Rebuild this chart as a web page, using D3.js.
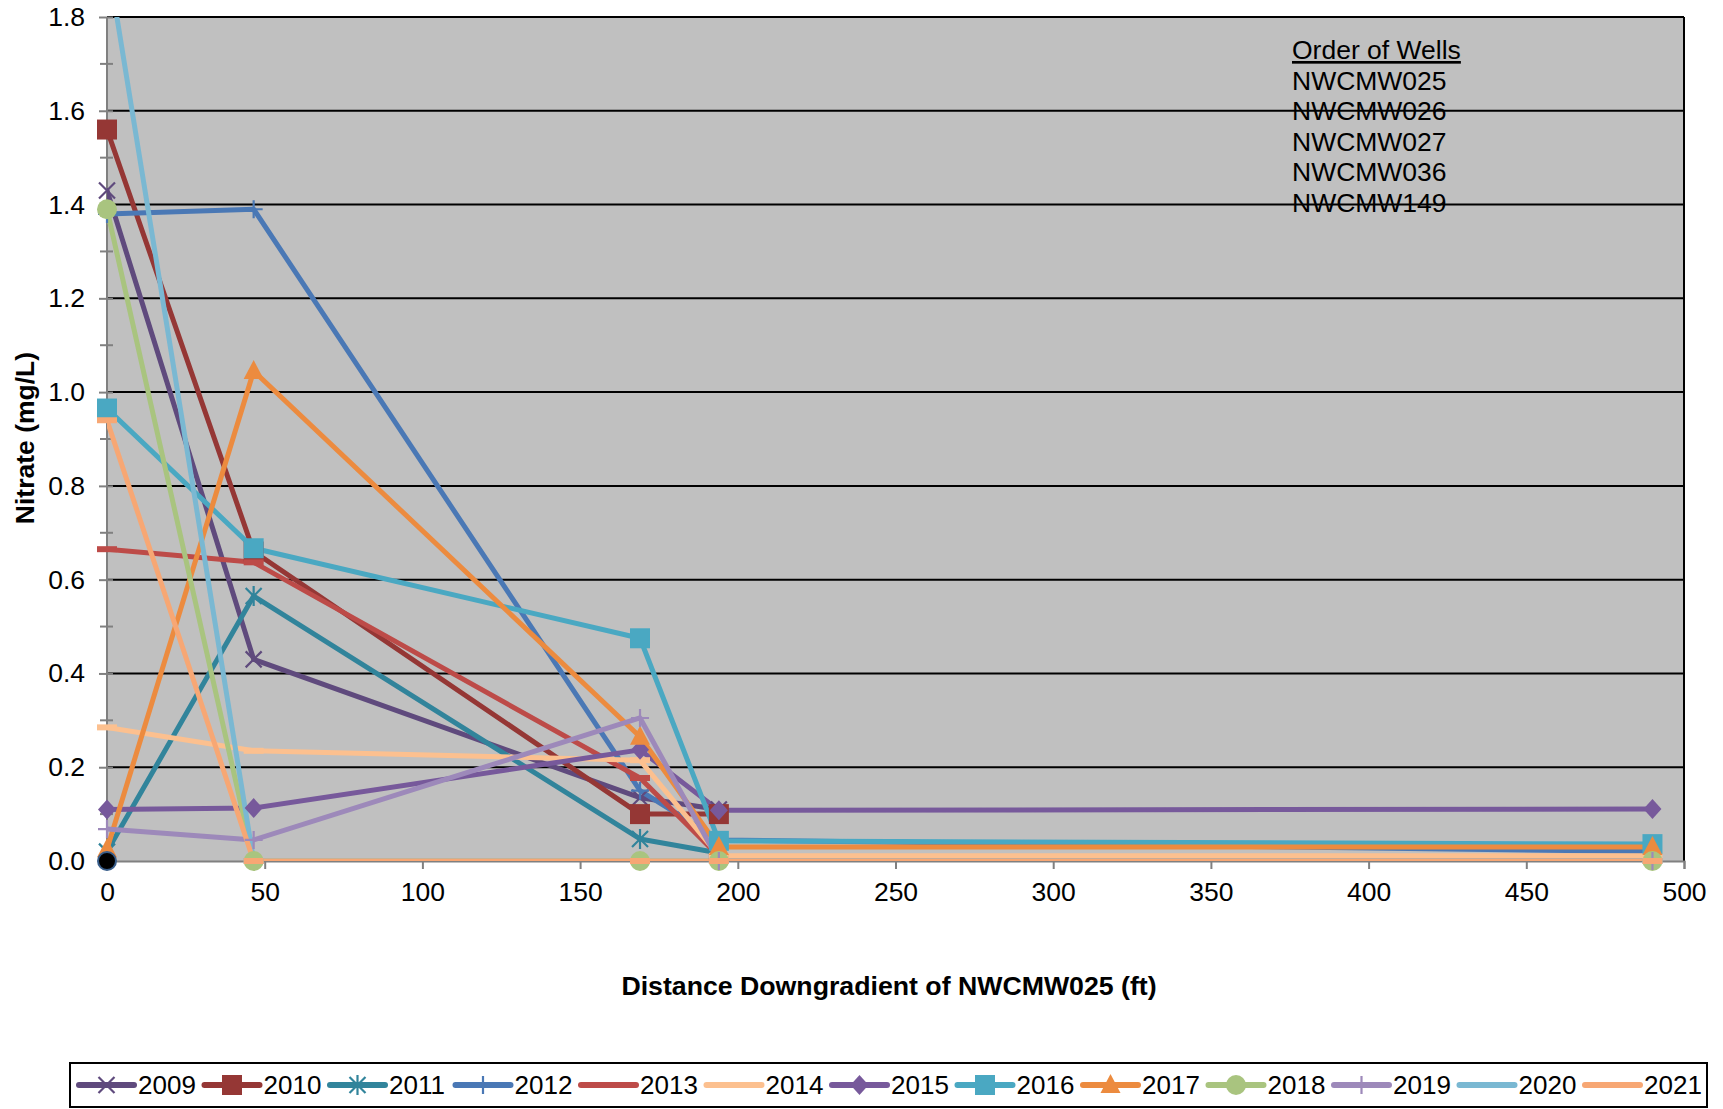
<!DOCTYPE html>
<html>
<head>
<meta charset="utf-8">
<script src="https://cdn.jsdelivr.net/npm/d3@7"></script>
<style>
  html, body { margin: 0; padding: 0; background: #fff; }
  svg { display: block; font-family: "Liberation Sans", Arial, sans-serif; }
</style>
</head>
<body>
<svg id="chart" width="1723" height="1109"></svg>
<script>
// distance downgradient of NWCMW025 (ft) for each well
const distances = [0, 46.5, 169, 194, 490]
const years = ['2009', '2010', '2011', '2012', '2013', '2014', '2015', '2016', '2017', '2018', '2019', '2020', '2021']

// nitrate (mg/L), one value per well, null = not sampled
const nitrate2009 = [1.43, 0.43, 0.135, 0.11, null]
const nitrate2010 = [1.56, 0.66, 0.10, 0.10, null]
const nitrate2011 = [0.02, 0.565, 0.047, 0.017, null]
const nitrate2012 = [1.38, 1.39, 0.15, 0.045, 0.02]
const nitrate2013 = [0.665, 0.637, 0.177, 0.01, null]
const nitrate2014 = [0.285, 0.235, 0.215, 0.011, 0.011]
const nitrate2015 = [0.11, 0.113, 0.237, 0.108, 0.111]
const nitrate2016 = [0.965, 0.667, 0.475, 0.043, 0.036]
const nitrate2017 = [0.025, 1.045, 0.265, 0.03, 0.03]
const nitrate2018 = [1.39, 0, 0, 0, 0]
const nitrate2019 = [0.068, 0.045, 0.305, 0, 0]
const nitrate2020 = [1.93, 0, 0, 0, 0]
const nitrate2021 = [0.94, 0, 0, 0, 0]
// lone black point sitting on the origin
const extraPoint = [0, 0]

const wells = ['NWCMW025', 'NWCMW026', 'NWCMW027', 'NWCMW036', 'NWCMW149']
const xTicks = [0, 50, 100, 150, 200, 250, 300, 350, 400, 450, 500]
const yTicks = [0, 0.2, 0.4, 0.6, 0.8, 1.0, 1.2, 1.4, 1.6, 1.8]

const values = [nitrate2009, nitrate2010, nitrate2011, nitrate2012, nitrate2013, nitrate2014,
  nitrate2015, nitrate2016, nitrate2017, nitrate2018, nitrate2019, nitrate2020, nitrate2021]
const colors = ['#5f4a7d', '#953735', '#31849b', '#4a78b5', '#bd4b48', '#fcc08f', '#77599b',
  '#4aa8c2', '#ec8b3f', '#a9c47f', '#9d89ba', '#7ab8d2', '#f7a774']
const markers = ['x', 'square', 'star', 'plus', 'dash', 'dash', 'diamond', 'square', 'triangle',
  'circle', 'plus', 'dash', 'dash']

const series = years.map((y, i) => ({
  name: y, color: colors[i], marker: markers[i],
  points: distances.map((d, j) => ({x: d, v: values[i][j]})).filter(p => p.v != null)
}))

const svg = d3.select('#chart')
const m = {left: 107, right: 1684, top: 17, bottom: 861}
const x = d3.scaleLinear().domain([0, 500]).range([m.left, m.right])
const y = d3.scaleLinear().domain([0, 1.8]).range([m.bottom, m.top])

svg.append('defs').append('clipPath').attr('id', 'plotclip')
  .append('rect').attr('x', m.left).attr('y', m.top)
  .attr('width', m.right - m.left).attr('height', m.bottom - m.top)

svg.append('rect')
  .attr('x', m.left).attr('y', m.top)
  .attr('width', m.right - m.left).attr('height', m.bottom - m.top)
  .attr('fill', '#c0c0c0')

// gridlines
svg.append('g').selectAll('line')
  .data(yTicks.filter(t => t > 0))
  .join('line')
    .attr('x1', m.left).attr('x2', m.right)
    .attr('y1', d => y(d)).attr('y2', d => y(d))
    .attr('stroke', '#000').attr('stroke-width', 2)
svg.append('line')
  .attr('x1', m.right).attr('x2', m.right).attr('y1', m.top).attr('y2', m.bottom)
  .attr('stroke', '#000').attr('stroke-width', 2)

// y axis
const yAxis = svg.append('g').attr('transform', `translate(${m.left},0)`)
  .call(d3.axisLeft(y).tickValues(yTicks).tickFormat(d3.format('.1f')).tickSize(8).tickPadding(14))
yAxis.call(g => g.select('.domain').remove())
yAxis.selectAll('.tick line').attr('stroke', '#808080').attr('stroke-width', 2).attr('x2', 6).attr('x1', -8)
yAxis.selectAll('text').attr('font-size', 26.5).attr('fill', '#000').attr('font-family', null)
svg.append('g').selectAll('line')
  .data(d3.range(0.1, 1.8, 0.2))
  .join('line')
    .attr('x1', m.left - 7).attr('x2', m.left + 6)
    .attr('y1', d => y(d)).attr('y2', d => y(d))
    .attr('stroke', '#808080').attr('stroke-width', 2)
svg.append('line')
  .attr('x1', m.left).attr('x2', m.left).attr('y1', m.top).attr('y2', m.bottom)
  .attr('stroke', '#808080').attr('stroke-width', 2)

// x axis
const xAxis = svg.append('g').attr('transform', `translate(0,${m.bottom})`)
  .call(d3.axisBottom(x).tickValues(xTicks).tickSize(8).tickPadding(13))
xAxis.select('.domain').attr('stroke', '#808080').attr('stroke-width', 2)
xAxis.selectAll('.tick line').attr('stroke', '#808080').attr('stroke-width', 2)
xAxis.selectAll('text').attr('font-size', 26.5).attr('fill', '#000').attr('font-family', null)

// axis titles
svg.append('text')
  .attr('transform', 'translate(34,438) rotate(-90)')
  .attr('text-anchor', 'middle')
  .attr('font-size', 26.5).attr('font-weight', 'bold')
  .text('Nitrate (mg/L)')
svg.append('text')
  .attr('x', 889).attr('y', 995)
  .attr('text-anchor', 'middle')
  .attr('font-size', 26.7).attr('font-weight', 'bold')
  .text('Distance Downgradient of NWCMW025 (ft)')

// marker shapes
function markerPath (type) {
  switch (type) {
    case 'square': return 'M-10,-10H10V10H-10Z'
    case 'diamond': return 'M0,-10L9,0L0,10L-9,0Z'
    case 'triangle': return 'M0,-11L10,8H-10Z'
    case 'circle': return 'M10,0A10,10 0 1,1 -10,0A10,10 0 1,1 10,0Z'
    case 'x': return 'M-8,-8L8,8M-8,8L8,-8'
    case 'plus': return 'M-9,0H9M0,-9V9'
    case 'star': return 'M-8,-8L8,8M-8,8L8,-8M0,-10V10'
    case 'dash': return 'M-10,0H10'
  }
}
const filled = t => ['square', 'diamond', 'triangle', 'circle'].includes(t)
function drawMarker (sel, s) {
  sel.append('path')
    .attr('d', markerPath(s.marker))
    .attr('fill', filled(s.marker) ? s.color : 'none')
    .attr('stroke', s.color)
    .attr('stroke-width', filled(s.marker) ? 0 : (s.marker === 'dash' ? 6 : 2.2))
}

const line = d3.line().x(d => x(d.x)).y(d => y(d.v))
const plot = svg.append('g').attr('clip-path', 'url(#plotclip)')
const plotMarks = svg.append('g')

series.forEach(s => {
  plot.append('path')
    .datum(s.points)
    .attr('d', line)
    .attr('fill', 'none')
    .attr('stroke', s.color)
    .attr('stroke-width', 5)
    .attr('stroke-linejoin', 'round')
    .attr('stroke-linecap', 'round')
  plotMarks.append('g').selectAll('g')
    .data(s.points.filter(p => p.v <= 1.8))
    .join('g')
      .attr('transform', d => `translate(${x(d.x)},${y(d.v)})`)
      .each(function () { drawMarker(d3.select(this), s) })
})

svg.append('circle')
  .attr('cx', x(extraPoint[0])).attr('cy', y(extraPoint[1]))
  .attr('r', 9).attr('fill', '#000')
  .attr('stroke', '#385d8a').attr('stroke-width', 2)

// well order note
const note = svg.append('g').attr('font-size', 26.5)
note.selectAll('text')
  .data(['Order of Wells'].concat(wells))
  .join('text')
    .attr('x', 1292)
    .attr('y', (d, i) => 59 + i * 30.5)
    .attr('text-decoration', (d, i) => i === 0 ? 'underline' : null)
    .text(d => d)

// legend
svg.append('rect')
  .attr('x', 70).attr('y', 1063).attr('width', 1637).attr('height', 44)
  .attr('fill', '#fff').attr('stroke', '#000').attr('stroke-width', 2)
const legend = svg.append('g').selectAll('g')
  .data(series)
  .join('g')
    .attr('transform', (d, i) => `translate(${79 + i * 125.5},1085)`)
legend.append('line')
  .attr('x1', 0).attr('x2', 55)
  .attr('stroke', d => d.color).attr('stroke-width', 6).attr('stroke-linecap', 'round')
legend.each(function (s) {
  if (s.marker !== 'dash') {
    drawMarker(d3.select(this).append('g').attr('transform', 'translate(27.5,0)'), s)
  }
})
legend.append('text')
  .attr('x', 59).attr('y', 9)
  .attr('font-size', 26)
  .text(d => d.name)
</script>
</body>
</html>
